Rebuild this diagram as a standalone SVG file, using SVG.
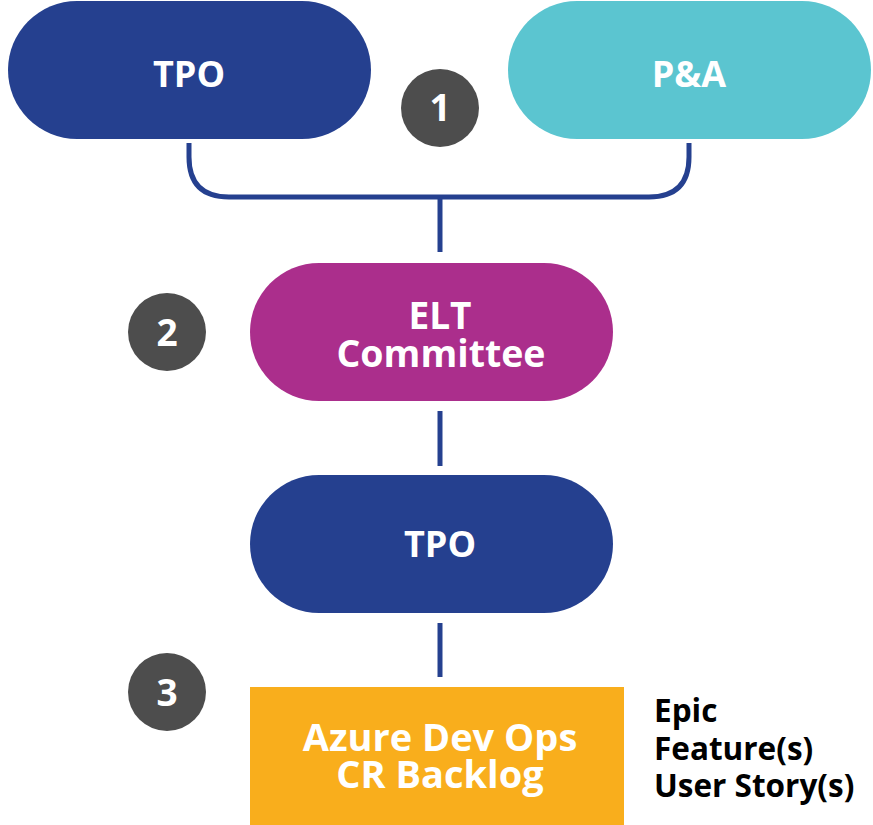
<svg xmlns="http://www.w3.org/2000/svg" width="873" height="825" viewBox="0 0 873 825">
<style>
.lbl{font-family:"Open Sans","Liberation Sans",sans-serif;font-weight:700;fill:#fff;text-anchor:middle}
.num{font-family:"Open Sans","Liberation Sans",sans-serif;font-weight:700;fill:#fff;text-anchor:middle;font-size:37px}
.side{font-family:"Open Sans","Liberation Sans",sans-serif;font-weight:700;fill:#000;font-size:31.5px}
.conn{fill:none;stroke:#25408F;stroke-width:5}
.badge{fill:#4D4D4D}
</style>
<rect width="873" height="825" fill="#fff"/>
<g id="connectors">
<path class="conn" d="M189 143 V157 Q189 197 229 197 H649 Q689 197 689 157 V143"/>
<path class="conn" d="M440 197 V252"/>
<path class="conn" d="M440 411 V466"/>
<path class="conn" d="M440 623 V677"/>
</g>
<g id="tpo-top">
<rect x="8" y="1" width="363" height="138" rx="69" fill="#25408F"/>
<text class="lbl" x="189" y="87" font-size="36">TPO</text>
</g>
<g id="pa">
<rect x="508" y="1" width="363" height="138" rx="69" fill="#5BC5D0"/>
<text class="lbl" x="689" y="87" font-size="36">P&amp;A</text>
</g>
<g id="badge1">
<circle class="badge" cx="440" cy="108" r="39"/>
<text class="num" x="440" y="121">1</text>
</g>
<g id="elt">
<rect x="250" y="263" width="363" height="138" rx="69" fill="#AB2E8C"/>
<text class="lbl" x="440" y="329" font-size="37">ELT</text>
<text class="lbl" x="441" y="367" font-size="37.5">Committee</text>
</g>
<g id="badge2">
<circle class="badge" cx="167" cy="332" r="39"/>
<text class="num" x="167" y="346">2</text>
</g>
<g id="tpo-mid">
<rect x="250" y="475" width="363" height="138" rx="69" fill="#25408F"/>
<text class="lbl" x="440" y="557" font-size="36">TPO</text>
</g>
<g id="badge3">
<circle class="badge" cx="167" cy="692" r="39"/>
<text class="num" x="167" y="706">3</text>
</g>
<g id="backlog">
<rect x="250" y="687" width="374" height="138" fill="#F9AE1C"/>
<text class="lbl" x="440" y="751" font-size="38">Azure Dev Ops</text>
<text class="lbl" x="440" y="788" font-size="38">CR Backlog</text>
</g>
<g id="items">
<text class="side" x="654" y="722">Epic</text>
<text class="side" x="654" y="760">Feature(s)</text>
<text class="side" x="654" y="797">User Story(s)</text>
</g>
</svg>
